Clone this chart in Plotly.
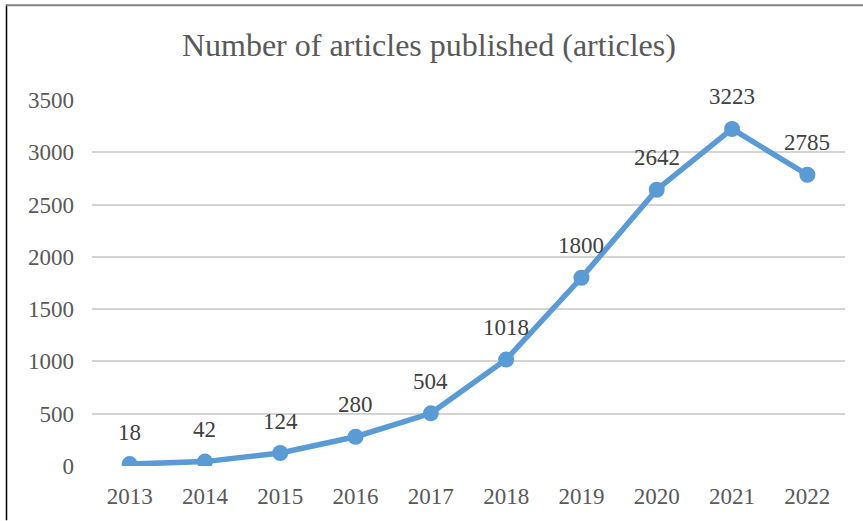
import plotly.graph_objects as go

years = ["2013", "2014", "2015", "2016", "2017", "2018", "2019", "2020", "2021", "2022"]
articles = [18, 42, 124, 280, 504, 1018, 1800, 2642, 3223, 2785]
y_ticks = [0, 500, 1000, 1500, 2000, 2500, 3000, 3500]
title_text = "Number of articles published (articles)"

W, H = 863, 521
ml, mr, mt, mb = 92, 18, 99.5, 54.5
pw, ph = W - ml - mr, H - mt - mb

def px_x(x):
    return (x - ml) / pw

def px_y(y):
    return (H - mb - y) / ph

FONT = "Liberation Serif"

fig = go.Figure()
fig.add_trace(go.Scatter(
    x=years, y=articles, mode="lines+markers",
    line=dict(color="#5B9BD5", width=5.5),
    marker=dict(color="#5B9BD5", size=16),
    hoverinfo="skip", showlegend=False,
))

for i, v in enumerate(articles):
    fig.add_annotation(x=i, y=v, xref="x", yref="y", text=str(v), showarrow=False,
                       yshift=32, font=dict(family=FONT, size=23, color="#404040"))

fig.add_shape(type="line", xref="paper", yref="paper",
              x0=px_x(6.5), x1=px_x(6.5), y0=px_y(4), y1=px_y(H),
              line=dict(color="#000000", width=1.5))
fig.add_shape(type="line", xref="paper", yref="paper",
              x0=px_x(6), x1=px_x(W), y0=px_y(4.5), y1=px_y(4.5),
              line=dict(color="#808080", width=2))

fig.update_layout(
    width=W, height=H,
    margin=dict(l=ml, r=mr, t=mt, b=mb, pad=0),
    paper_bgcolor="white", plot_bgcolor="white",
    title=dict(text=title_text, x=0.497, xref="container", xanchor="center",
               y=1 - 45 / H, yref="container", yanchor="middle",
               font=dict(family=FONT, size=32, color="#595959")),
    xaxis=dict(type="category", range=[-0.5, 9.5], showgrid=False, showline=False,
               zeroline=False, ticks="", ticklabelstandoff=14,
               tickfont=dict(family=FONT, size=23, color="#595959"), fixedrange=True),
    yaxis=dict(range=[0, 3500], tickvals=y_ticks, showgrid=True, gridcolor="#D4D4D4",
               gridwidth=1.5, zeroline=False, showline=False, ticks="",
               ticklabelstandoff=17,
               tickfont=dict(family=FONT, size=23, color="#595959"), fixedrange=True),
)

fig.write_html("out.html")
